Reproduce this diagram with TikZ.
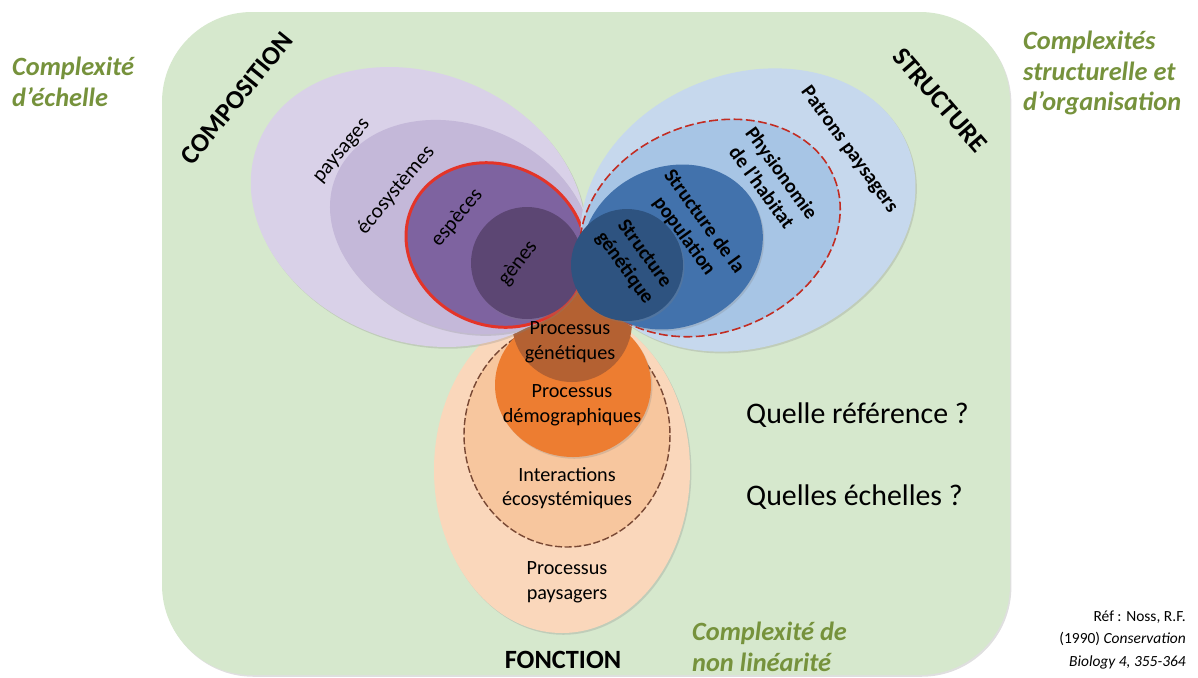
\documentclass[tikz,border=0pt]{standalone}
\usepackage{fontspec}
\setmainfont{Carlito}
\usepackage{tikz}
\usetikzlibrary{shapes,shadows}

\definecolor{fondvert}{RGB}{214,232,205}
\definecolor{vertlabel}{RGB}{118,146,60}
\definecolor{violet1}{RGB}{217,209,232}
\definecolor{violet2}{RGB}{196,184,217}
\definecolor{violet3}{RGB}{126,99,160}
\definecolor{violet4}{RGB}{92,70,115}
\definecolor{bleu1}{RGB}{198,216,237}
\definecolor{bleu2}{RGB}{167,197,229}
\definecolor{bleu3}{RGB}{66,114,172}
\definecolor{bleu4}{RGB}{46,83,128}
\definecolor{orange1}{RGB}{250,215,187}
\definecolor{orange2}{RGB}{247,198,158}
\definecolor{orange3}{RGB}{237,125,49}
\definecolor{orange4}{RGB}{180,97,50}
\definecolor{rouge}{RGB}{228,52,40}
\definecolor{brun}{RGB}{120,72,52}

\begin{document}
\begin{tikzpicture}[x=0.02cm,y=-0.02cm,line join=round]
\tikzstyle{ombre}=[drop shadow={shadow xshift=0.8pt,shadow yshift=-1pt,opacity=0.25}]
\tikzstyle{titre}=[font=\fontsize{15}{18}\selectfont\bfseries]
\tikzstyle{cplx}=[text=vertlabel,font=\fontsize{15}{17.5}\selectfont\bfseries\itshape,align=left,anchor=west]
\tikzstyle{compo}=[font=\fontsize{12}{14}\selectfont,rotate=50]
\tikzstyle{struct}=[font=\fontsize{11.5}{14}\selectfont\bfseries,align=center,rotate=-54]
\tikzstyle{proc}=[font=\fontsize{11.5}{14}\selectfont,align=center]
\tikzstyle{question}=[font=\fontsize{17}{20}\selectfont,anchor=west]

\useasboundingbox (0,0) rectangle (1198,677);
\fill[fondvert,ombre,rounded corners=1.8cm] (162,12) rectangle (1010,675);

% fonction
\fill[orange1,ombre] (562,470) ellipse [x radius=128,y radius=163];
\fill[orange2] (567,435) ellipse [x radius=103,y radius=112];
\draw[brun,dash pattern=on 4pt off 1.5pt,line width=0.8pt] (567,435) ellipse [x radius=103,y radius=112];
\fill[orange3,ombre] (573,385) ellipse [x radius=78,y radius=72];
\fill[orange4] (572,322) circle [radius=60];

% composition
\fill[violet1,ombre,rotate around={-22:(418,207)}] (418,207) ellipse [x radius=172,y radius=134];
\fill[violet2,ombre,rotate around={-22:(460,227)}] (460,227) ellipse [x radius=134,y radius=102];
\filldraw[fill=violet3,draw=rouge,line width=1.7pt,rotate around={-25:(496,245)}] (496,245) ellipse [x radius=92,y radius=80];
\fill[violet4,ombre] (527,263) circle [radius=56];

% structure
\fill[bleu1,ombre,rotate around={22:(748,210)}] (748,210) ellipse [x radius=172,y radius=136];
\fill[bleu2,rotate around={22:(710,228)}] (710,228) ellipse [x radius=134,y radius=104];
\draw[rouge!85!black,dash pattern=on 5pt off 2pt,line width=0.9pt,rotate around={22:(710,228)}] (710,228) ellipse [x radius=134,y radius=104];
\fill[bleu3,ombre,rotate around={25:(672,247)}] (672,247) ellipse [x radius=93,y radius=80];
\fill[bleu4,ombre] (627,265) circle [radius=56];

\node[titre,rotate=51] (composition) at (237,98) {COMPOSITION};
\node[titre,rotate=-49] (structure) at (940,100) {STRUCTURE};
\node[titre] (fonction) at (563,660) {FONCTION};

\node[compo] (paysages) at (343,152) {paysages};
\node[compo] (ecosys) at (396,190) {écosystèmes};
\node[compo] (especes) at (457,218) {espèces};
\node[compo,rotate=2] (genes) at (518,263) {gènes};

\node[struct] (patrons) at (849,150) {Patrons paysagers};
\node[struct] (physio) at (772,180) {Physionomie\\de l’habitat};
\node[struct] (popu) at (694,229) {Structure de la\\population};
\node[struct] (genet) at (634,261) {Structure\\génétique};

\node[proc] (pgen) at (570,342) {Processus\\génétiques};
\node[proc] (pdemo) at (572,405) {Processus\\démographiques};
\node[proc] (inter) at (567,488) {Interactions\\écosystémiques};
\node[proc] (ppays) at (567,582) {Processus\\paysagers};

\node[question] (qref) at (740,415) {Quelle référence ?};
\node[question] (qech) at (740,497) {Quelles échelles ?};

\node[cplx] (cechelle) at (6,82) {Complexité\\d’échelle};
\node[cplx] (cstruct) at (1017,73) {Complexités\\structurelle et\\d’organisation};
\node[cplx] (clin) at (686,647) {Complexité de\\non linéarité};

\node[anchor=east,align=right,font=\fontsize{8.8}{13}\selectfont] (ref) at (1192,640)
  {Réf : Noss, R.F.\\(1990) \textit{Conservation}\\\textit{Biology 4, 355-364}};
\end{tikzpicture}
\end{document}
